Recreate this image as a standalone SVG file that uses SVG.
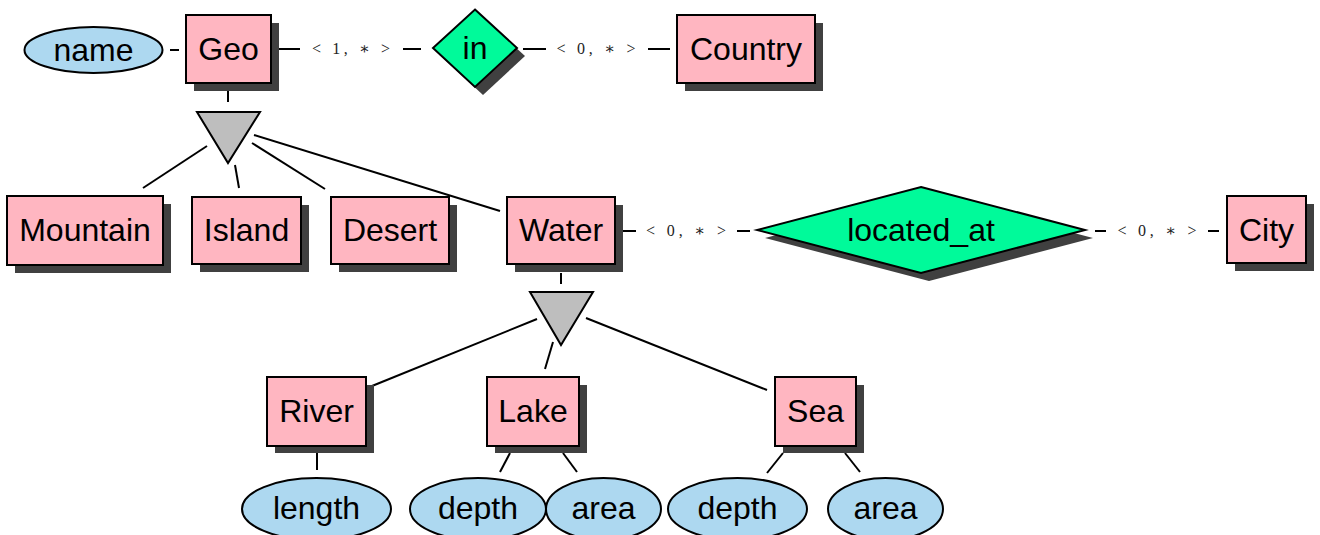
<svg xmlns="http://www.w3.org/2000/svg" width="1320" height="535" viewBox="0 0 1320 535">
<style>
.ent{fill:#ffb6c1;stroke:#000;stroke-width:2}
.sh{fill:#404040}
.att{fill:#add8f0;stroke:#000;stroke-width:2}
.rel{fill:#00fa9a;stroke:#000;stroke-width:2}
.isa{fill:#bebebe;stroke:#000;stroke-width:2}
.t{font-family:"Liberation Sans",Arial,sans-serif;font-size:32px;fill:#000;text-anchor:middle}
.lbl{font-family:"Liberation Serif","DejaVu Serif",serif;font-size:16px;fill:#222;text-anchor:middle}
.c line{stroke:#000;stroke-width:2}
</style>
<rect width="1320" height="535" fill="#fff"/>
<g class="c" id="connectors">
<line x1="170" y1="50" x2="179" y2="50"/>
<line x1="279" y1="49" x2="300" y2="49"/>
<line x1="403" y1="49" x2="421" y2="49"/>
<line x1="523" y1="49" x2="546" y2="49"/>
<line x1="648" y1="49" x2="670" y2="49"/>
<line x1="228" y1="91" x2="228" y2="102"/>
<line x1="207" y1="146" x2="143" y2="188"/>
<line x1="235" y1="165" x2="239" y2="188"/>
<line x1="252" y1="143" x2="325" y2="189"/>
<line x1="254" y1="135" x2="500" y2="211"/>
<line x1="623" y1="231" x2="636" y2="231"/>
<line x1="737" y1="231" x2="750" y2="231"/>
<line x1="1095" y1="231" x2="1106" y2="231"/>
<line x1="1208" y1="231" x2="1219" y2="231"/>
<line x1="561" y1="273" x2="561" y2="284"/>
<line x1="537" y1="319" x2="372" y2="386"/>
<line x1="553" y1="342" x2="545" y2="369"/>
<line x1="586" y1="318" x2="767" y2="390"/>
<line x1="317" y1="453" x2="317" y2="470"/>
<line x1="510" y1="453" x2="500" y2="472"/>
<line x1="563" y1="453" x2="577" y2="472"/>
<line x1="783" y1="453" x2="767" y2="473"/>
<line x1="845" y1="453" x2="860" y2="472"/>
<text class="lbl" x="351" y="54" textLength="78" lengthAdjust="spacing">&lt; 1, ∗ &gt;</text>
<text class="lbl" x="596" y="54" textLength="79" lengthAdjust="spacing">&lt; 0, ∗ &gt;</text>
<text class="lbl" x="686" y="236" textLength="80" lengthAdjust="spacing">&lt; 0, ∗ &gt;</text>
<text class="lbl" x="1157" y="236" textLength="79" lengthAdjust="spacing">&lt; 0, ∗ &gt;</text>
</g>
<g id="name"><ellipse class="att" cx="93.5" cy="50" rx="69" ry="23"/><text class="t" x="93.5" y="61">name</text></g>
<g id="geo"><rect class="sh" x="194" y="23" width="85" height="68"/><rect class="ent" x="186" y="15" width="85" height="68"/><text class="t" x="228.5" y="60">Geo</text></g>
<g id="in"><polygon class="sh" points="483,17.5 525,56 483,95 441,56"/><polygon class="rel" points="475,9.5 517,48 475,87 433,48"/><text class="t" x="475" y="59">in</text></g>
<g id="country"><rect class="sh" x="685" y="23" width="138" height="68"/><rect class="ent" x="677" y="15" width="138" height="68"/><text class="t" x="746" y="60">Country</text></g>
<g id="isa1"><polygon class="isa" points="197,112 260,112 228,163"/></g>
<g id="mountain"><rect class="sh" x="15" y="204" width="156" height="69"/><rect class="ent" x="7" y="196" width="156" height="69"/><text class="t" x="85" y="241">Mountain</text></g>
<g id="island"><rect class="sh" x="200" y="205" width="109" height="67"/><rect class="ent" x="192" y="197" width="109" height="67"/><text class="t" x="246.5" y="241">Island</text></g>
<g id="desert"><rect class="sh" x="339" y="205" width="118" height="67"/><rect class="ent" x="331" y="197" width="118" height="67"/><text class="t" x="390" y="241">Desert</text></g>
<g id="water"><rect class="sh" x="515" y="205" width="108" height="67"/><rect class="ent" x="507" y="197" width="108" height="67"/><text class="t" x="561" y="241">Water</text></g>
<g id="located_at"><polygon class="sh" points="929,195 1093,238 929,281 765,238"/><polygon class="rel" points="921,187 1085,230 921,273 757,230"/><text class="t" x="921" y="241">located_at</text></g>
<g id="city"><rect class="sh" x="1235" y="204" width="79" height="67"/><rect class="ent" x="1227" y="196" width="79" height="67"/><text class="t" x="1266.5" y="241">City</text></g>
<g id="isa2"><polygon class="isa" points="530,292 593,292 561,345"/></g>
<g id="river"><rect class="sh" x="275" y="385" width="99" height="68"/><rect class="ent" x="267" y="377" width="99" height="69"/><text class="t" x="316.5" y="422">River</text></g>
<g id="lake"><rect class="sh" x="495" y="385" width="92" height="68"/><rect class="ent" x="487" y="377" width="92" height="69"/><text class="t" x="533" y="422">Lake</text></g>
<g id="sea"><rect class="sh" x="783" y="385" width="81" height="68"/><rect class="ent" x="775" y="377" width="81" height="69"/><text class="t" x="815.5" y="422">Sea</text></g>
<g id="length"><ellipse class="att" cx="316.5" cy="509" rx="74.5" ry="31"/><text class="t" x="316.5" y="519">length</text></g>
<g id="lake_depth"><ellipse class="att" cx="478" cy="509" rx="68" ry="31"/><text class="t" x="478" y="519">depth</text></g>
<g id="lake_area"><ellipse class="att" cx="603.5" cy="509" rx="57.5" ry="31"/><text class="t" x="603.5" y="519">area</text></g>
<g id="sea_depth"><ellipse class="att" cx="737.5" cy="509" rx="69.5" ry="31"/><text class="t" x="737.5" y="519">depth</text></g>
<g id="sea_area"><ellipse class="att" cx="885.5" cy="509" rx="57.5" ry="31"/><text class="t" x="885.5" y="519">area</text></g>
</svg>
